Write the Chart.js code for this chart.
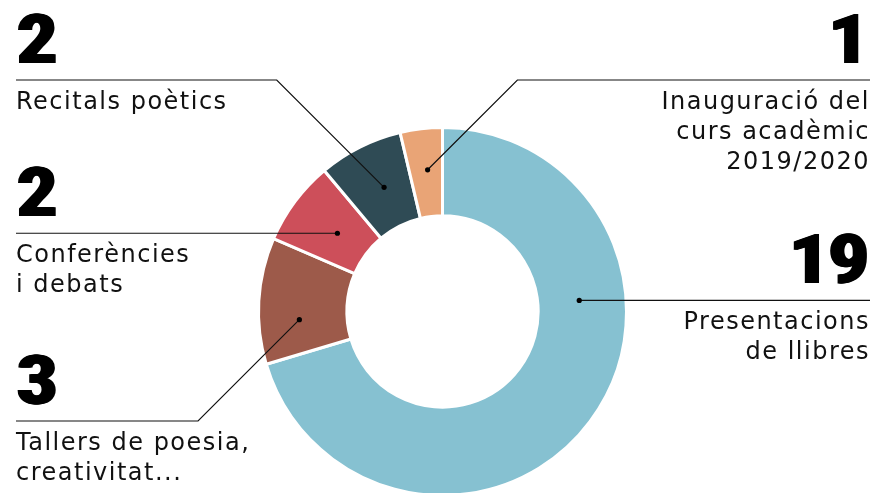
<!DOCTYPE html>
<html>
<head>
    <title>Activitats</title>
    <script src="https://cdn.jsdelivr.net/npm/chart.js"></script>
    <style>
        body { margin: 0; overflow: hidden; background: #fff; }
    </style>
</head>
<body>
    <canvas id="activitats" width="874" height="498"></canvas>

    <script>
        // activity types, each label split in lines
        const categories = [
            ['Presentacions', 'de llibres'],
            ['Tallers de poesia,', 'creativitat...'],
            ['Conferències', 'i debats'],
            ['Recitals poètics'],
            ['Inauguració del', 'curs acadèmic', '2019/2020']
        ];
        const values = [19, 3, 2, 2, 1];
        const colors = ['#86C1D1', '#9D5A4A', '#CD4F5A', '#2F4B55', '#E9A476'];

        // where each callout sits: side of the page, y of its rule (null = level with the dot),
        // and where the dot goes inside its slice (fraction of angle / of ring width)
        const callouts = [
            { side: 'right', lineY: null, angle: 0.337, ring: 0.47 },
            { side: 'left',  lineY: 421,  angle: 0.335, ring: 0.54 },
            { side: 'left',  lineY: null, angle: 0.5,   ring: 0.40 },
            { side: 'left',  lineY: 80,   angle: 0.555, ring: 0.47 },
            { side: 'right', lineY: 80,   angle: 0.55,  ring: 0.53 }
        ];

        const leftX = 16, rightX = 870;

        const calloutPlugin = {
            id: 'callouts',
            afterDraw(chart) {
                const ctx = chart.ctx;
                const arcs = chart.getDatasetMeta(0).data;
                ctx.save();
                arcs.forEach(function (arc, i) {
                    const c = callouts[i];
                    const p = arc.getProps(['x', 'y', 'startAngle', 'endAngle', 'innerRadius', 'outerRadius'], true);
                    const a = p.startAngle + (p.endAngle - p.startAngle) * c.angle;
                    const r = p.innerRadius + (p.outerRadius - p.innerRadius) * c.ring;
                    const dx = p.x + r * Math.cos(a);
                    const dy = p.y + r * Math.sin(a);
                    const ly = c.lineY === null ? dy : c.lineY;
                    const dir = c.side === 'left' ? -1 : 1;
                    const elbowX = dx + dir * Math.abs(ly - dy);
                    const endX = c.side === 'left' ? leftX : rightX;

                    // leader line
                    ctx.strokeStyle = '#111';
                    ctx.lineWidth = 1.2;
                    ctx.beginPath();
                    ctx.moveTo(dx, dy);
                    ctx.lineTo(elbowX, ly);
                    ctx.lineTo(endX, ly);
                    ctx.stroke();

                    ctx.fillStyle = '#000';
                    ctx.beginPath();
                    ctx.arc(dx, dy, 2.6, 0, Math.PI * 2);
                    ctx.fill();

                    // big count above the rule; filled a few times side by side for a heavier stem
                    ctx.textAlign = c.side === 'left' ? 'left' : 'right';
                    ctx.textBaseline = 'alphabetic';
                    ctx.letterSpacing = '0px';
                    ctx.font = '900 68px Roboto, Lato, sans-serif';
                    for (let s = 0; s <= 3; s++) {
                        ctx.fillText(String(values[i]), endX + dir * (s - 3), ly - 17);
                    }

                    // description below it
                    ctx.fillStyle = '#111';
                    ctx.font = '24px "DejaVu Sans", sans-serif';
                    ctx.letterSpacing = '1.5px';
                    categories[i].forEach(function (line, k) {
                        ctx.fillText(line, endX, ly + 29 + k * 30);
                    });
                });
                ctx.restore();
            }
        };

        const ctx = document.getElementById('activitats').getContext('2d');
        const chart = new Chart(ctx, {
            type: 'doughnut',
            data: {
                labels: categories.map(function (l) { return l.join(' '); }),
                datasets: [{
                    data: values,
                    backgroundColor: colors,
                    borderColor: '#fff',
                    borderWidth: 3,
                    hoverOffset: 0
                }]
            },
            options: {
                responsive: false,
                animation: false,
                cutout: '52%',
                layout: { padding: { left: 257, right: 246, top: 126, bottom: 1 } },
                plugins: {
                    legend: { display: false },
                    tooltip: { enabled: false }
                }
            },
            plugins: [calloutPlugin]
        });
    </script>
</body>
</html>
